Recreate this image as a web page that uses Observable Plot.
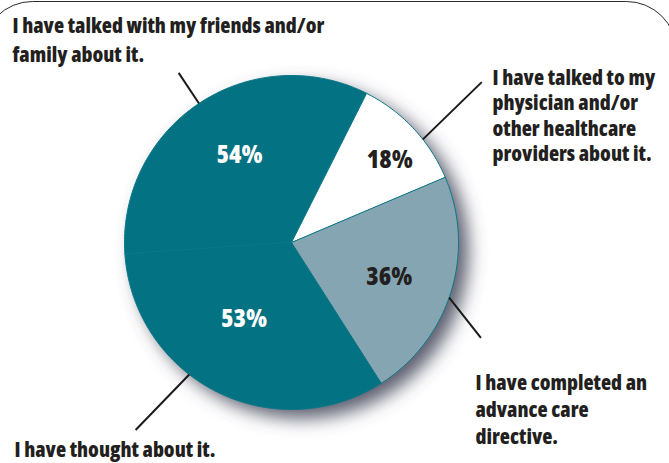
<!DOCTYPE html>
<html>
<head>
<meta charset="utf-8">
<script src="https://cdn.jsdelivr.net/npm/d3@7"></script>
<script src="https://cdn.jsdelivr.net/npm/@observablehq/plot@0.6"></script>
<style>
  html, body { margin: 0; padding: 0; background: #fff; overflow: hidden; }
  #chart svg { display: block; }
</style>
</head>
<body>
<div id="chart"></div>
<script>
// ---- Data ----
const categories = [
  "I have talked with my friends and/or\nfamily about it.",
  "I have talked to my\nphysician and/or\nother healthcare\nproviders about it.",
  "I have completed an\nadvance care\ndirective.",
  "I have thought about it."
];
const values = [54, 18, 36, 53];
const valueLabels = ["54%", "18%", "36%", "53%"];
const sliceColors = ["#037282", "#ffffff", "#86a5b3", "#037282"];
const pctColors = ["#ffffff", "#231f20", "#231f20", "#ffffff"];

// ---- Layout ----
const W = 669, H = 463;
const cx = 291, cy = 242, R = 167;           // pie centre & radius (px)
const startDeg = -94;                          // first slice starts here (clockwise from north)
const svgNS = "http://www.w3.org/2000/svg";
const weight = 800;

// pick a condensed bold face that is installed
function measure(family, stretch, text) {
  const s = document.createElementNS(svgNS, "svg");
  s.setAttribute("width", 10); s.setAttribute("height", 10);
  s.style.position = "absolute"; s.style.left = "-9999px";
  const t = document.createElementNS(svgNS, "text");
  t.setAttribute("style", `font-family:${family};font-stretch:${stretch};font-weight:${weight};font-size:20px`);
  t.textContent = text;
  s.appendChild(t); document.body.appendChild(s);
  const w = t.getComputedTextLength();
  s.remove();
  return w;
}
const sample = "I have talked with my friends and/or";
let fontFamily = "'DejaVu Sans Condensed', 'DejaVu Sans', sans-serif", fontStretch = "condensed";
for (const f of ["'Open Sans'", "Roboto"]) {
  const wn = measure(f, "100%", sample), wc = measure(f, "75%", sample);
  if (wc < 0.88 * wn) { fontFamily = `${f}, 'DejaVu Sans Condensed', sans-serif`; fontStretch = "75%"; break; }
}
const w20 = measure(fontFamily, fontStretch, sample);
const labelSize = Math.min(21, 20 * 312 / w20);
const pctSize = Math.min(26, 20 * 46 / measure(fontFamily, fontStretch, "54%"));

const pie = d3.pie().sort(null)
  .startAngle(startDeg * Math.PI / 180)
  .endAngle(startDeg * Math.PI / 180 + 2 * Math.PI)(values);

const rad = d => d * Math.PI / 180;
const pt = (a, r) => ({x: r * Math.sin(a), y: r * Math.cos(a)});

// slice polygons built from the pie angles
const slices = pie.map((p, i) => {
  const n = Math.max(2, Math.ceil((p.endAngle - p.startAngle) / rad(1)));
  const pts = [pt(0, 0)];
  for (let k = 0; k <= n; ++k) pts.push(pt(p.startAngle + (p.endAngle - p.startAngle) * k / n, 1));
  return {i, pts, mid: (p.startAngle + p.endAngle) / 2};
});

// percentage label placement tweaks (angle offset deg, radius in pie radii)
const pctAngle = [3, 3, 2, 5], pctRadius = [0.61, 0.77, 0.62, 0.54];
const pctData = slices.map(s => ({...pt(s.mid + rad(pctAngle[s.i]), pctRadius[s.i]), label: valueLabels[s.i], color: pctColors[s.i]}));

// leader lines: from pie rim outwards (layout tweaks per slice)
const leadIn = [0, 5, 2, 11], leadOut = [0, 3, 9.5, 13];   // degrees from slice mid
const leadR = [1.22, 1.49, 1.27, 1.46];                     // outer radius (pie radii)
const leaders = slices.map(s => {
  const p1 = pt(s.mid + rad(leadIn[s.i]), 1.0), p2 = pt(s.mid + rad(leadOut[s.i]), leadR[s.i]);
  return {x1: p1.x, y1: p1.y, x2: p2.x, y2: p2.y};
});

const labelLayout = [
  {dx: 12, dy: 12, lh: 29},
  {dx: 492, dy: 66, lh: 25.5},
  {dx: 475, dy: 370, lh: 27},
  {dx: 14, dy: 437, lh: 27}
];

const plot = Plot.plot({
  width: W, height: H,
  margin: 0,
  x: {domain: [-cx / R, (W - cx) / R], axis: null},
  y: {domain: [-(H - cy) / R, cy / R], axis: null},
  style: {fontFamily, fontStretch, background: "#fff"},
  marks: [
    Plot.frame({rx: 50, ry: 50, insetLeft: -18, insetRight: -7, insetTop: 1, insetBottom: -90, stroke: "#2a2a2a", strokeWidth: 1}),
    // shadow disc
    Plot.dot([0], {x: () => 0, y: () => 0, r: R, fill: "#4a4d60", fillOpacity: 0.9, dx: 10, dy: 9, stroke: "none"}),
    ...slices.map(s => Plot.line(s.pts, {
      x: "x", y: "y", fill: sliceColors[s.i], stroke: "#0b7887", strokeWidth: 1,
      curve: "linear-closed", strokeLinejoin: "round"
    })),
    Plot.text(pctData, {
      x: "x", y: "y", text: "label", fill: "color",
      fontSize: pctSize, fontWeight: weight, textAnchor: "middle"
    }),
    Plot.link(leaders, {x1: "x1", y1: "y1", x2: "x2", y2: "y2", stroke: "#1a1a1a", strokeWidth: 2}),
    ...categories.map((c, i) => Plot.text([c], {
      text: d => d, frameAnchor: "top-left", dx: labelLayout[i].dx, dy: labelLayout[i].dy,
      lineHeight: labelLayout[i].lh / labelSize, lineAnchor: "top", textAnchor: "start",
      fontSize: labelSize, fontWeight: weight, fill: "#231f20"
    }))
  ]
});

// soft blur for the shadow disc
const defs = document.createElementNS(svgNS, "defs");
defs.innerHTML = '<filter id="pieShadow" x="-30%" y="-30%" width="160%" height="160%"><feGaussianBlur stdDeviation="9"/></filter>';
plot.insertBefore(defs, plot.firstChild);
const dotG = plot.querySelector('g[aria-label="dot"]');
if (dotG) dotG.setAttribute("filter", "url(#pieShadow)");

document.getElementById("chart").appendChild(plot);
</script>
</body>
</html>
